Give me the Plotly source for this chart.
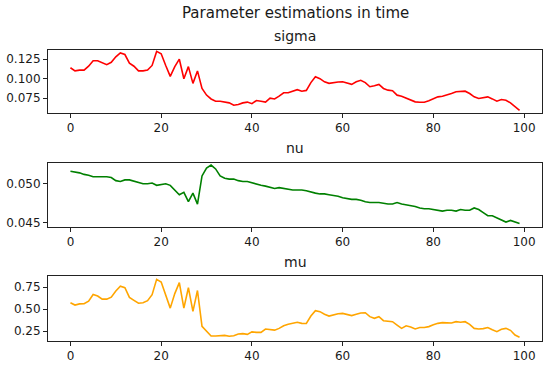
import plotly.graph_objects as go

# ---------------- data ----------------
sigma = [0.114, 0.110, 0.111, 0.111, 0.116, 0.123, 0.123, 0.120, 0.118, 0.121,
         0.128, 0.133, 0.131, 0.120, 0.116, 0.110, 0.110, 0.111, 0.117, 0.135,
         0.132, 0.117, 0.103, 0.1155, 0.125, 0.100, 0.1155, 0.094, 0.110, 0.0875,
         0.079, 0.074, 0.071, 0.071, 0.070, 0.069, 0.066, 0.067, 0.069, 0.070,
         0.068, 0.072, 0.071, 0.070, 0.075, 0.074, 0.0776, 0.082, 0.082, 0.084,
         0.086, 0.084, 0.085, 0.095, 0.1026, 0.100, 0.096, 0.094, 0.095, 0.0957,
         0.096, 0.094, 0.0927, 0.096, 0.098, 0.095, 0.0897, 0.091, 0.0927, 0.0875,
         0.0853, 0.0845, 0.0789, 0.0776, 0.0754, 0.0724, 0.0703, 0.0698, 0.0698, 0.0716,
         0.0746, 0.0767, 0.0776, 0.0789, 0.081, 0.0832, 0.084, 0.084, 0.081, 0.0767,
         0.0746, 0.0759, 0.0767, 0.0741, 0.0711, 0.0733, 0.0724, 0.069, 0.0638, 0.0595]

nu = [0.0516, 0.0515, 0.0514, 0.0512, 0.0511, 0.0509, 0.0509, 0.0509, 0.0509, 0.0508,
      0.0504, 0.0503, 0.0505, 0.0505, 0.0503, 0.0501, 0.0500, 0.0500, 0.0501, 0.0498,
      0.0499, 0.0500, 0.0498, 0.0492, 0.0486, 0.0489, 0.0477, 0.0488, 0.0474, 0.0510,
      0.0520, 0.0524, 0.0519, 0.0510, 0.0507, 0.0506, 0.0506, 0.0504, 0.0503, 0.0503,
      0.0501, 0.0500, 0.0498, 0.0497, 0.0495, 0.0494, 0.0495, 0.0494, 0.0493, 0.0492,
      0.0492, 0.0492, 0.0491, 0.0489, 0.0488, 0.0487, 0.0487, 0.0486, 0.0485, 0.0484,
      0.0482, 0.0481, 0.0480, 0.0480, 0.0479, 0.0477, 0.0476, 0.0476, 0.0476, 0.0475,
      0.0474, 0.0474, 0.0476, 0.0474, 0.0473, 0.0472, 0.0471, 0.0469, 0.0468, 0.0468,
      0.0467, 0.0466, 0.0465, 0.0466, 0.0466, 0.0465, 0.0467, 0.0466, 0.0466, 0.0469,
      0.0467, 0.0463, 0.0459, 0.0459, 0.0456, 0.0453, 0.0451, 0.0453, 0.0451, 0.0449]

mu = [0.572, 0.545, 0.558, 0.560, 0.590, 0.665, 0.648, 0.612, 0.612, 0.635,
      0.705, 0.760, 0.742, 0.632, 0.598, 0.565, 0.572, 0.595, 0.663, 0.837,
      0.807, 0.655, 0.510, 0.675, 0.800, 0.510, 0.742, 0.473, 0.710, 0.303,
      0.246, 0.193, 0.193, 0.200, 0.200, 0.190, 0.197, 0.216, 0.220, 0.212,
      0.240, 0.235, 0.235, 0.273, 0.265, 0.260, 0.280, 0.310, 0.326, 0.337,
      0.349, 0.337, 0.335, 0.420, 0.481, 0.470, 0.440, 0.420, 0.436, 0.447,
      0.450, 0.436, 0.425, 0.440, 0.454, 0.458, 0.413, 0.394, 0.413, 0.367,
      0.364, 0.356, 0.318, 0.280, 0.310, 0.296, 0.273, 0.290, 0.290, 0.300,
      0.320, 0.337, 0.345, 0.341, 0.341, 0.356, 0.349, 0.356, 0.326, 0.280,
      0.273, 0.277, 0.290, 0.265, 0.243, 0.270, 0.280, 0.258, 0.205, 0.180]

steps = list(range(len(sigma)))

suptitle = "Parameter estimations in time"
panel_names = ["sigma", "nu", "mu"]
line_colors = ["red", "green", "orange"]

x_tick_vals = [0, 20, 40, 60, 80, 100]
sigma_tick_vals = [0.075, 0.100, 0.125]
sigma_tick_text = ["0.075", "0.100", "0.125"]
nu_tick_vals = [0.045, 0.050]
nu_tick_text = ["0.045", "0.050"]
mu_tick_vals = [0.25, 0.50, 0.75]
mu_tick_text = ["0.25", "0.50", "0.75"]

# ---------------- layout geometry ----------------
W, H = 550, 366
ML, MR, MT, MB = 48, 8, 50, 25
PH = H - MT - MB

def py(px):
    """pixel row -> paper y"""
    return (H - MB - px) / PH

panel_px = [(50, 112.7), (162.7, 226.7), (276, 340.7)]
y_ranges = [[0.0564, 0.1368], [0.0445, 0.0527], [0.140, 0.875]]
y_ticks = [(sigma_tick_vals, sigma_tick_text), (nu_tick_vals, nu_tick_text),
           (mu_tick_vals, mu_tick_text)]
x_range = [-4.95, 103.95]

FONT = "DejaVu Sans"
TXT = "#1a1a1a"

fig = go.Figure()
series = [sigma, nu, mu]
for i, (vals, col) in enumerate(zip(series, line_colors)):
    sfx = "" if i == 0 else str(i + 1)
    fig.add_trace(go.Scatter(x=steps, y=vals, mode="lines",
                             line=dict(color=col, width=1.6),
                             xaxis="x" + sfx, yaxis="y" + sfx,
                             showlegend=False, hoverinfo="skip"))

axis_common = dict(showline=True, mirror=True, linecolor="#222", linewidth=1,
                   ticks="outside", ticklen=4, tickwidth=1, tickcolor="#222",
                   showgrid=False, zeroline=False, automargin=False,
                   tickfont=dict(family=FONT, size=12, color=TXT))

layout = dict(width=W, height=H, margin=dict(l=ML, r=MR, t=MT, b=MB, autoexpand=False),
              paper_bgcolor="white", plot_bgcolor="white",
              font=dict(family=FONT, color=TXT), showlegend=False)

annotations = [dict(text=suptitle, x=0.5, xref="paper", y=py(13.0), yref="paper",
                    xanchor="center", yanchor="middle", showarrow=False,
                    font=dict(family=FONT, size=15, color=TXT))]

for i, ((top, bot), yr, (tv, tt)) in enumerate(zip(panel_px, y_ranges, y_ticks)):
    sfx = "" if i == 0 else str(i + 1)
    layout["xaxis" + sfx] = dict(axis_common, range=x_range, tickvals=x_tick_vals,
                                 anchor="y" + sfx, domain=[0, 1])
    layout["yaxis" + sfx] = dict(axis_common, range=yr, tickvals=tv, ticktext=tt,
                                 anchor="x" + sfx, domain=[py(bot), py(top)])
    annotations.append(dict(text=panel_names[i], x=0.5, xref="paper",
                            y=py(top - 14.3), yref="paper",
                            xanchor="center", yanchor="middle", showarrow=False,
                            font=dict(family=FONT, size=14, color=TXT)))

layout["annotations"] = annotations
fig.update_layout(**layout)
fig.write_html("out.html",
               config={"displayModeBar": False, "staticPlot": True},
               post_script="document.body.style.margin='0';"
                           "document.body.style.overflow='hidden';")
